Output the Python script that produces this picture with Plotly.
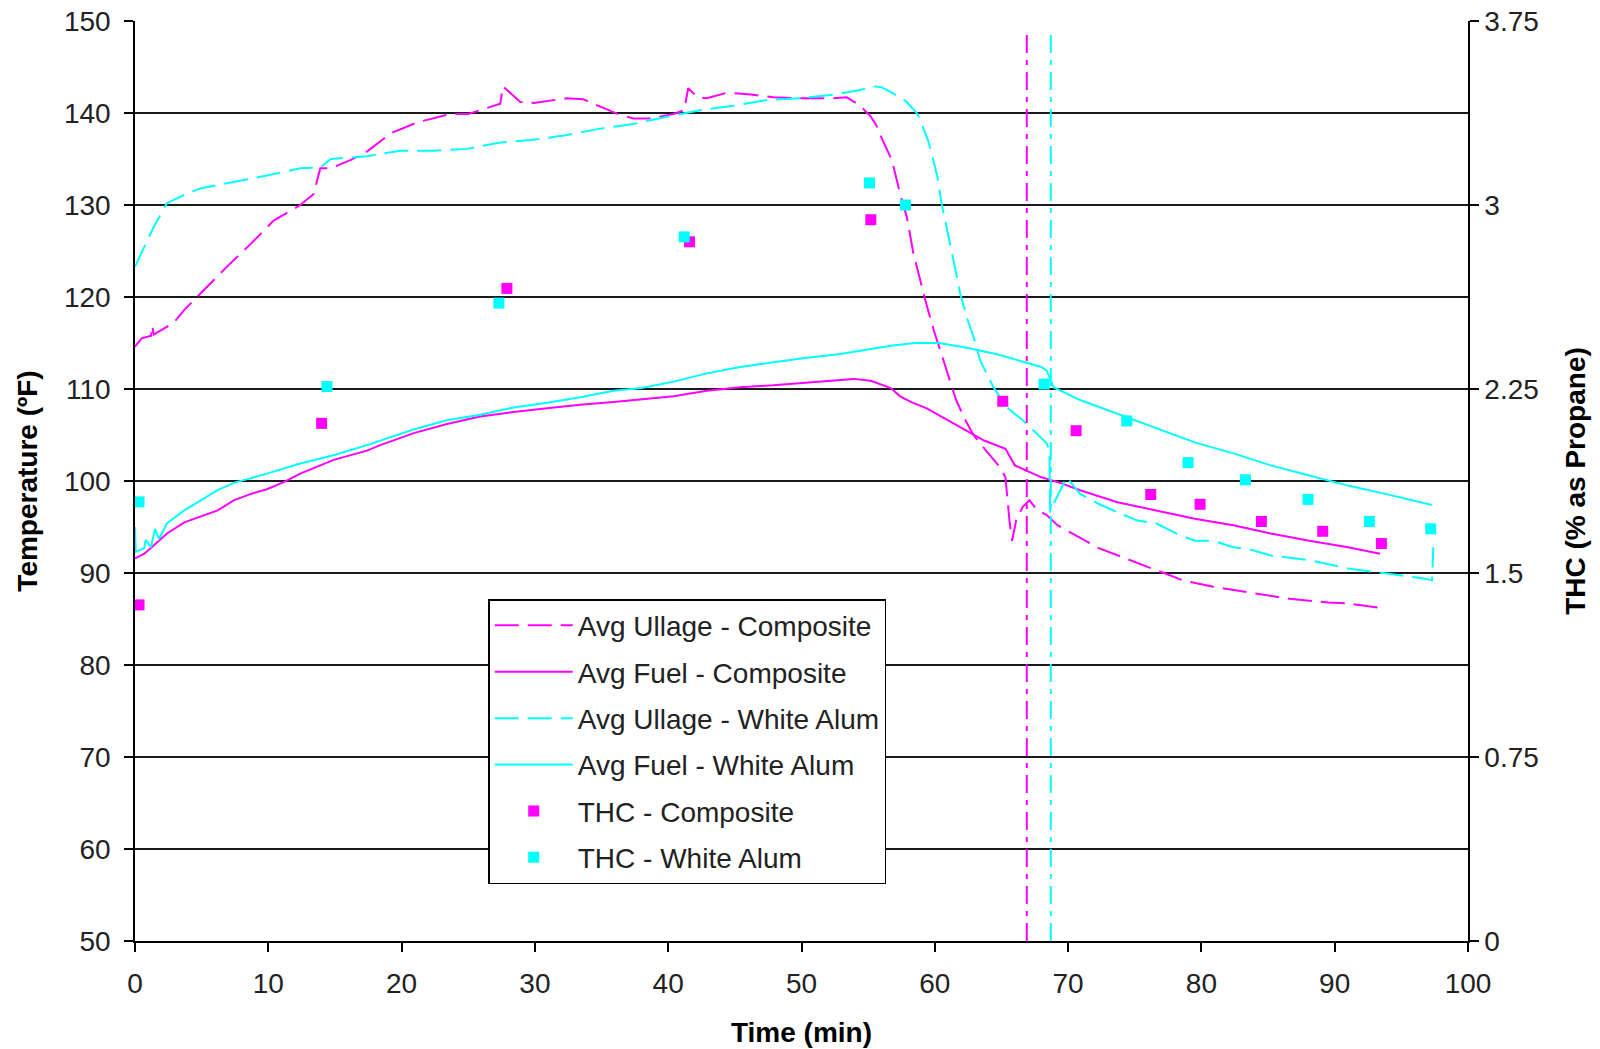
import plotly.graph_objects as go

# ---- Average ullage temperature, composite tank (time min, temp F) ----
ull_comp_t = [0.0, 0.5, 1.2, 1.3, 1.4, 2.9, 3.7, 4.9, 6.9, 8.7, 10.4, 12.4, 13.4, 13.9, 14.7,
              16.2, 17.4, 19.2, 21.2, 23.7, 25.0, 27.4, 27.6, 28.9, 29.9, 32.4, 33.6, 34.9,
              36.2, 37.4, 38.6, 40.4, 41.2, 41.5, 42.2, 42.9, 44.4, 46.2, 47.9, 49.9, 52.4,
              53.4, 54.4, 55.2, 55.6, 56.1, 56.8, 57.4, 57.9, 58.4, 58.9, 59.3, 59.9, 60.5,
              61.1, 61.6, 62.3, 62.9, 63.9, 64.9, 65.3, 65.6, 65.8, 66.1, 66.6, 67.1, 67.7,
              68.4, 69.2, 70.3, 72.3, 74.3, 76.6, 78.6, 80.9, 83.8, 86.6, 89.5, 91.0, 93.4]
ull_comp_T = [114.6, 115.5, 115.8, 116.9, 115.9, 117.2, 118.6, 120.4, 123.3, 125.8, 128.3, 130.0,
              131.2, 134.0, 134.0, 134.9, 135.8, 137.8, 139.0, 139.9, 139.9, 141.0, 142.9, 141.2,
              141.1, 141.6, 141.5, 140.7, 139.9, 139.4, 139.4, 139.9, 140.3, 142.7, 141.7, 141.6,
              142.2, 142.0, 141.7, 141.6, 141.6, 141.7, 140.8, 139.6, 138.7, 137.0, 134.8, 131.2,
              128.7, 124.7, 121.8, 119.6, 116.5, 113.8, 110.9, 108.8, 106.6, 105.0, 103.2, 101.5,
              100.4, 95.7, 93.5, 95.7, 97.2, 97.9, 96.8, 96.3, 95.2, 94.3, 92.7, 91.6, 90.3, 89.2,
              88.5, 87.8, 87.2, 86.8, 86.7, 86.2]

# ---- Average fuel temperature, composite tank ----
fuel_comp_t = [0.0, 0.7, 1.4, 2.4, 3.7, 4.9, 6.2, 7.4, 8.7, 9.9, 11.2, 12.4, 14.9, 17.4, 18.4,
               20.9, 23.4, 25.9, 28.4, 30.9, 33.4, 35.9, 38.7, 40.4, 42.9, 45.4, 47.9, 50.4,
               52.9, 53.9, 55.2, 56.7, 57.4, 58.2, 59.4, 62.3, 63.7, 65.3, 66.0, 68.0, 69.4,
               70.9, 73.7, 76.6, 79.5, 82.4, 85.2, 88.1, 91.0, 93.4]
fuel_comp_T = [91.6, 92.1, 93.0, 94.3, 95.5, 96.1, 96.8, 97.9, 98.6, 99.1, 99.9, 100.8, 102.3,
               103.3, 103.9, 105.2, 106.2, 107.0, 107.5, 107.9, 108.3, 108.6, 109.0, 109.2,
               109.8, 110.2, 110.4, 110.7, 111.0, 111.1, 110.9, 110.1, 109.2, 108.6, 107.9,
               105.5, 104.4, 103.5, 101.7, 100.4, 99.8, 99.0, 97.7, 96.8, 95.9, 95.2, 94.3,
               93.5, 92.8, 92.1]

# ---- Average ullage temperature, white aluminum tank ----
ull_wa_t = [0.0, 0.7, 1.4, 2.4, 3.7, 4.9, 7.4, 9.9, 12.4, 13.9, 14.7, 17.4, 19.9, 22.4, 24.9,
            27.4, 29.9, 32.4, 34.9, 37.4, 39.9, 42.4, 44.9, 47.4, 49.9, 52.4, 54.4, 55.4, 56.0,
            56.9, 57.9, 58.7, 59.1, 59.5, 59.9, 60.2, 60.5, 60.9, 61.4, 61.9, 62.4, 63.0, 63.4,
            64.4, 65.4, 66.6, 67.7, 68.4, 68.6, 68.65, 69.0, 69.9, 70.9, 72.3, 73.7, 75.2,
            76.6, 78.1, 79.5, 80.9, 82.4, 83.8, 85.2, 88.1, 91.0, 93.8, 96.7, 97.3, 97.4]
ull_wa_T = [123.3, 125.4, 127.6, 130.2, 131.1, 131.8, 132.5, 133.2, 134.0, 134.1, 135.0, 135.3,
            135.9, 135.9, 136.1, 136.8, 137.1, 137.6, 138.3, 138.8, 139.6, 140.3, 140.8, 141.4,
            141.6, 142.0, 142.5, 142.9, 142.8, 142.1, 141.2, 139.9, 138.5, 137.0, 134.8, 133.0,
            130.2, 127.6, 124.0, 120.4, 117.8, 115.2, 113.1, 110.2, 108.0, 106.6, 105.1, 104.1,
            103.2, 96.6, 97.8, 100.4, 98.6, 97.5, 96.6, 95.7, 95.4, 94.3, 93.5, 93.5, 92.8,
            92.5, 91.9, 91.4, 90.5, 90.0, 89.4, 89.2, 92.8]

# ---- Average fuel temperature, white aluminum tank ----
fuel_wa_t = [0.0, 0.05, 0.7, 0.8, 1.2, 1.5, 1.8, 2.4, 3.7, 4.9, 6.2, 7.4, 9.9, 12.4, 14.9,
             17.4, 18.4, 20.9, 23.4, 25.9, 28.4, 30.9, 33.4, 35.9, 38.0, 40.4, 42.9, 45.4,
             47.9, 50.4, 52.9, 55.4, 56.7, 58.5, 60.3, 62.3, 64.6, 66.3, 68.0, 68.4, 68.9,
             70.9, 73.7, 76.6, 79.5, 82.4, 85.2, 88.1, 91.0, 93.8, 97.3]
fuel_wa_T = [95.0, 92.3, 92.7, 93.6, 92.8, 94.8, 93.7, 95.4, 96.8, 97.9, 99.0, 99.8, 100.8,
             101.9, 102.8, 103.9, 104.4, 105.6, 106.6, 107.2, 108.0, 108.5, 109.1, 109.8,
             110.1, 110.8, 111.7, 112.4, 112.9, 113.4, 113.8, 114.4, 114.7, 115.0, 115.0,
             114.5, 113.8, 113.1, 112.4, 112.0, 110.2, 108.8, 107.3, 105.7, 104.2, 103.0,
             101.7, 100.6, 99.5, 98.6, 97.4]

# ---- Total hydrocarbons (% as propane) ----
thc_comp_t = [0.3, 14.0, 27.9, 41.6, 55.2, 65.1, 70.6, 76.2, 79.9, 84.5, 89.1, 93.5]
thc_comp = [1.37, 2.11, 2.66, 2.85, 2.94, 2.20, 2.08, 1.82, 1.78, 1.71, 1.67, 1.62]
thc_wa_t = [0.3, 14.4, 27.3, 41.2, 55.1, 57.8, 68.2, 74.4, 79.0, 83.3, 88.0, 92.6, 97.2]
thc_wa = [1.79, 2.26, 2.60, 2.87, 3.09, 3.00, 2.27, 2.12, 1.95, 1.88, 1.80, 1.71, 1.68]

# ---- Event markers (time min) and their vertical extent (temp F) ----
event_comp_t = 66.9
event_wa_t = 68.7
event_span = [50, 148.9]

# ---- Axis ticks ----
x_ticks = [0, 10, 20, 30, 40, 50, 60, 70, 80, 90, 100]
temp_ticks = [50, 60, 70, 80, 90, 100, 110, 120, 130, 140, 150]
thc_ticks = [0, 0.75, 1.5, 2.25, 3, 3.75]
thc_tick_text = ["0", "0.75", "1.5", "2.25", "3", "3.75"]

MAGENTA = "#FF00FF"
CYAN = "#00FFFF"
FONT = "Liberation Sans, Arial, sans-serif"
DASH = "24px,9px"

fig = go.Figure()

fig.add_trace(go.Scatter(x=ull_comp_t, y=ull_comp_T, mode="lines", name="Avg Ullage - Composite",
                         line=dict(color=MAGENTA, width=2, dash=DASH), legendgroup="a"))
fig.add_trace(go.Scatter(x=fuel_comp_t, y=fuel_comp_T, mode="lines", name="Avg Fuel - Composite",
                         line=dict(color=MAGENTA, width=2), legendgroup="b"))
fig.add_trace(go.Scatter(x=ull_wa_t, y=ull_wa_T, mode="lines", name="Avg Ullage - White Alum",
                         line=dict(color=CYAN, width=2, dash=DASH), legendgroup="c"))
fig.add_trace(go.Scatter(x=fuel_wa_t, y=fuel_wa_T, mode="lines", name="Avg Fuel - White Alum",
                         line=dict(color=CYAN, width=2), legendgroup="d"))

# vertical dash-dot event lines
fig.add_trace(go.Scatter(x=[event_comp_t, event_comp_t], y=event_span, mode="lines",
                         line=dict(color=MAGENTA, width=2, dash="18px,7px,5px,7px"),
                         showlegend=False, hoverinfo="skip"))
fig.add_trace(go.Scatter(x=[event_wa_t, event_wa_t], y=event_span, mode="lines",
                         line=dict(color=CYAN, width=2, dash="18px,7px,5px,7px"),
                         showlegend=False, hoverinfo="skip"))

fig.add_trace(go.Scatter(x=thc_comp_t, y=thc_comp, mode="markers", name="THC - Composite",
                         marker=dict(symbol="square", size=11, color=MAGENTA),
                         yaxis="y2", legendgroup="e"))
fig.add_trace(go.Scatter(x=thc_wa_t, y=thc_wa, mode="markers", name="THC - White Alum",
                         marker=dict(symbol="square", size=11, color=CYAN),
                         yaxis="y2", legendgroup="f"))

tick_font = dict(family=FONT, size=28, color="#222222")
title_font = dict(family=FONT, size=28, color="#000000", weight="bold")

fig.update_layout(
    width=1600, height=1049,
    margin=dict(l=135, r=132, t=21, b=108, autoexpand=False),
    paper_bgcolor="white", plot_bgcolor="white",
    font=dict(family=FONT, color="#222222"),
    xaxis=dict(range=[0, 100], tickvals=x_ticks, ticks="outside", ticklen=9, tickwidth=1.5,
               tickcolor="#000", showline=True, linecolor="#000", linewidth=1.5, mirror=False,
               showgrid=False, zeroline=False, tickfont=tick_font, ticklabelstandoff=8,
               title=dict(text="<b>Time (min)</b>", font=title_font, standoff=24)),
    yaxis=dict(range=[50, 150], tickvals=temp_ticks, ticks="outside", ticklen=9, tickwidth=1.5,
               tickcolor="#000", showline=True, linecolor="#000", linewidth=1.5,
               showgrid=True, gridcolor="#1a1a1a", gridwidth=1.5, zeroline=False,
               tickfont=tick_font, ticklabelstandoff=8,
               title=dict(text="<b>Temperature (ºF)</b>", font=title_font, standoff=18)),
    yaxis2=dict(range=[0, 3.75], tickvals=thc_ticks, ticktext=thc_tick_text, overlaying="y",
                side="right", ticks="outside", ticklen=9, tickwidth=1.5, tickcolor="#000",
                showline=True, linecolor="#000", linewidth=1.5, showgrid=False,
                zeroline=False, tickfont=tick_font, ticklabelstandoff=0,
                title=dict(text="<b>THC (% as Propane)</b>", font=title_font, standoff=28)),
    legend=dict(x=0.265, y=0.3716, xanchor="left", yanchor="top",
                bgcolor="white", bordercolor="#000", borderwidth=1.5,
                font=dict(family=FONT, size=28, color="#222222"),
                traceorder="grouped", tracegroupgap=7, itemwidth=78),
    showlegend=True,
)

fig.write_html("out.html")
